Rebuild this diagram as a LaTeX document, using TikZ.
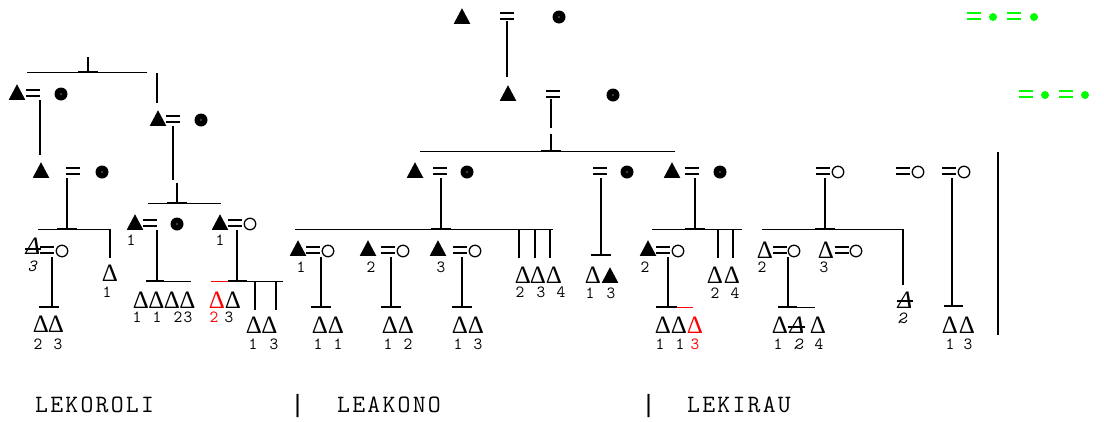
\documentclass[tikz,border=0pt]{standalone}
\usepackage{fontspec}
\newfontfamily\serf{Liberation Serif}
\newfontfamily\capf{Latin Modern Mono}[LetterSpace=9]
\newfontfamily\labf{Latin Modern Mono}
\newfontfamily\barf{Liberation Mono}
\definecolor{lime}{RGB}{0,255,0}
\definecolor{rd}{RGB}{255,0,0}
\tikzset{
 mt/.style={minimum width=16.5pt, minimum height=15.5pt, inner sep=0pt, path picture={\fill (path picture bounding box.south west) -- (path picture bounding box.south east) -- (path picture bounding box.north) -- cycle;}},
 fd/.style={circle, fill=black, minimum size=13pt, inner sep=0pt, path picture={\fill[white] (path picture bounding box.center) circle (0.7pt);}},
 gd/.style={circle, fill=lime, minimum size=8pt, inner sep=0pt},
 oc/.style={circle, draw, line width=1.3pt, minimum size=11.5pt, inner sep=0pt},
 eq/.style={minimum width=14pt, minimum height=9pt, inner sep=0pt, path picture={\draw[line width=1.5pt,#1] ([xshift=-7pt,yshift=3pt]path picture bounding box.center) -- ++(14pt,0pt) ([xshift=-7pt,yshift=-3pt]path picture bounding box.center) -- ++(14pt,0pt);}},
 eq/.default=black,
 dt/.style={inner sep=0pt, font=\serf\fontsize{25}{25}\selectfont},
 sdt/.style={inner sep=0pt, font=\serf\itshape\fontsize{25}{25}\selectfont},
 lb/.style={inner sep=0pt, font=\labf\fontsize{17}{17}\selectfont},
 slb/.style={inner sep=0pt, font=\labf\itshape\fontsize{17}{17}\selectfont},
 bt/.style={inner sep=0pt, anchor=base west, font=\capf\fontsize{25}{25}\selectfont},
 bb/.style={inner sep=0pt, anchor=base west, font=\barf\fontsize{25}{25}\selectfont},
 vl/.style={line width=1.1pt},
 hl/.style={line width=0.7pt},
 jb/.style={line width=1.4pt},
 sk/.style={line width=1.3pt},
}
\begin{document}
\begin{tikzpicture}[x=1pt,y=-1pt]
\useasboundingbox (0,0) rectangle (1104,421);
% ---------- LEAKONO top generations
\node[mt] (a0) at (462,16) {};
\node[eq] (e0) at (507,16) {};
\node[fd] (b0) at (559,17) {};
\node[mt] (a1) at (508,93) {};
\node[eq] (e1) at (553,94) {};
\node[fd] (b1) at (613,95) {};
\coordinate (k0) at (507,77);
\draw[vl] (e0.south -| k0) -- (k0);
\coordinate (k1) at (551,151);
\draw[vl] (e1.south -| k1) -- (551,128) (551,134) -- (k1);
\draw[jb] ([xshift=-10pt]k1) -- ([xshift=10pt]k1);
\draw[hl] (420,151) -- (675,151);
% green
\node[eq=lime] (g1) at (974,16) {};
\node[gd] (g2) at (993,17) {};
\node[eq=lime] (g3) at (1014,16) {};
\node[gd] (g4) at (1034,17) {};
\node[eq=lime] (g5) at (1026,94) {};
\node[gd] (g6) at (1045,95) {};
\node[eq=lime] (g7) at (1066,94) {};
\node[gd] (g8) at (1085,95) {};
% ---------- LEKOROLI
\coordinate (p0) at (88,57);
\coordinate (p1) at (88,72);
\draw[vl] (p0) -- (p1);
\draw[jb] ([xshift=-10pt]p1) -- ([xshift=10pt]p1);
\draw[hl] (27,72) -- (147,72);
\draw[vl] (157,73) -- (157,103);
\node[mt] (l1t) at (17,92) {};
\node[eq] (l1e) at (33,93) {};
\node[fd] (l1c) at (61,94) {};
\draw[vl] (40,100) -- (40,155);
\node[mt] (l2t) at (41,170) {};
\node[eq] (l2e) at (73,171) {};
\node[fd] (l2c) at (102,172) {};
\coordinate (j2) at (67,229);
\draw[vl] (67,178) -- (j2);
\draw[jb] ([xshift=-10pt]j2) -- ([xshift=10pt]j2);
\draw[hl] (38,229) -- (110,229);
\draw[vl] (110,229) -- (110,258);
\node[sdt] (l3t) at (33,246) {Δ};
\draw[sk] (25,249) -- (41,249);
\node[eq] (l3e) at (47,250) {};
\node[oc] (l3c) at (62,251) {};
\node[slb] (l3n) at (32,266) {3};
\coordinate (j3) at (52,307);
\draw[vl] (52,257) -- (j3);
\draw[jb] (39,307) -- (59,307);
\node[dt] (l4a) at (41,324) {Δ};
\node[dt] (l4b) at (56,324) {Δ};
\node[lb] (l4an) at (38,344) {2};
\node[lb] (l4bn) at (58,344) {3};
\node[dt] (l5) at (110,273) {Δ};
\node[lb] (l5n) at (107,292) {1};
% second couple
\node[mt] (m1t) at (158,118) {};
\node[eq] (m1e) at (173,119) {};
\node[fd] (m1c) at (201,120) {};
\draw[vl] (173,126) -- (173,180);
\coordinate (j4) at (177,203);
\draw[vl] (177,183) -- (j4);
\draw[jb] ([xshift=-10pt]j4) -- ([xshift=10pt]j4);
\draw[hl] (148,203) -- (221,203);
\node[mt] (m2t) at (135,222) {};
\node[eq] (m2e) at (150,223) {};
\node[fd] (m2c) at (177,224) {};
\node[lb] (m2n) at (131,240) {1};
\node[mt] (m3t) at (220,222) {};
\node[eq] (m3e) at (235,223) {};
\node[oc] (m3c) at (250,224) {};
\node[lb] (m3n) at (220,240) {1};
\draw[vl] (157,230) -- (157,281);
\draw[jb] (146,281) -- (164,281);
\draw[hl] (146,281) -- (191,281);
\node[dt] (m4a) at (141,300) {Δ};
\node[dt] (m4b) at (156.5,300) {Δ};
\node[dt] (m4c) at (172,300) {Δ};
\node[dt] (m4d) at (187.5,300) {Δ};
\node[lb] (m4an) at (137,317) {1};
\node[lb] (m4bn) at (157,317) {1};
\node[lb] (m4cn) at (178,317) {2};
\node[lb] (m4dn) at (188,317) {3};
\draw[vl] (237,230) -- (237,281);
\draw[jb] (228,281) -- (247,281);
\draw[hl] (228,281) -- (283,281);
\draw[hl,rd] (211,281) -- (228,281);
\node[dt,rd] (m5a) at (217,300) {Δ};
\node[dt] (m5b) at (233,300) {Δ};
\node[lb,rd] (m5an) at (214,317) {2};
\node[lb] (m5bn) at (229,317) {3};
\draw[vl] (255,281) -- (255,310);
\draw[vl] (276,281) -- (276,310);
\node[dt] (m6a) at (254,325) {Δ};
\node[dt] (m6b) at (269.5,325) {Δ};
\node[lb] (m6an) at (253,344) {1};
\node[lb] (m6bn) at (274,344) {3};
% ---------- LEAKONO
\node[mt] (c1t) at (415,170) {};
\node[eq] (c1e) at (440,171) {};
\node[fd] (c1c) at (467,172) {};
\coordinate (j5) at (441,229);
\draw[vl] (441,178) -- (j5);
\draw[jb] ([xshift=-10pt]j5) -- ([xshift=10pt]j5);
\draw[hl] (295,229) -- (553,229);
\node[mt] (c2t) at (298,248) {};
\node[eq] (c2e) at (313,250) {};
\node[oc] (c2c) at (328,251) {};
\node[lb] (c2n) at (301,267) {1};
\node[mt] (c3t) at (368,248) {};
\node[eq] (c3e) at (388,250) {};
\node[oc] (c3c) at (403,251) {};
\node[lb] (c3n) at (371,267) {2};
\node[mt] (c4t) at (438,248) {};
\node[eq] (c4e) at (460,250) {};
\node[oc] (c4c) at (475,251) {};
\node[lb] (c4n) at (441,267) {3};
\draw[vl] (321,257) -- (321,307);
\draw[jb] (311,307) -- (331,307);
\draw[vl] (391,257) -- (391,307);
\draw[jb] (381,307) -- (401,307);
\draw[vl] (462,257) -- (462,307);
\draw[jb] (452,307) -- (472,307);
\node[dt] (c5a) at (320,325) {Δ};
\node[dt] (c5b) at (336,325) {Δ};
\node[lb] (c5an) at (318,344) {1};
\node[lb] (c5bn) at (338,344) {1};
\node[dt] (c6a) at (390,325) {Δ};
\node[dt] (c6b) at (406,325) {Δ};
\node[lb] (c6an) at (388,344) {1};
\node[lb] (c6bn) at (408,344) {2};
\node[dt] (c7a) at (460,325) {Δ};
\node[dt] (c7b) at (476,325) {Δ};
\node[lb] (c7an) at (458,344) {1};
\node[lb] (c7bn) at (478,344) {3};
\draw[vl] (519,229) -- (519,258);
\draw[vl] (535,229) -- (535,258);
\draw[vl] (550,229) -- (550,258);
\node[dt] (c8a) at (523,275) {Δ};
\node[dt] (c8b) at (538,275) {Δ};
\node[dt] (c8c) at (554,275) {Δ};
\node[lb] (c8an) at (520,292) {2};
\node[lb] (c8bn) at (541,292) {3};
\node[lb] (c8cn) at (561,292) {4};
% middle right
\node[eq] (d1e) at (600,171) {};
\node[fd] (d1c) at (627,172) {};
\draw[vl] (601,178) -- (601,255);
\draw[jb] (591,255) -- (611,255);
\node[dt] (d2a) at (593,275) {Δ};
\node[mt] (d2b) at (610,275) {};
\node[lb] (d2an) at (590,293) {1};
\node[lb] (d2bn) at (611,293) {3};
\node[mt] (d3t) at (672,170) {};
\node[eq] (d3e) at (692,171) {};
\node[fd] (d3c) at (720,172) {};
\coordinate (j6) at (695,229);
\draw[vl] (695,178) -- (j6);
\draw[jb] ([xshift=-10pt]j6) -- ([xshift=10pt]j6);
\draw[hl] (652,229) -- (742,229);
\draw[vl] (718,229) -- (718,258);
\draw[vl] (733,229) -- (733,258);
\node[dt] (d4a) at (715,275) {Δ};
\node[dt] (d4b) at (732,275) {Δ};
\node[lb] (d4an) at (715,293) {2};
\node[lb] (d4bn) at (735,293) {4};
\node[mt] (d5t) at (648,248) {};
\node[eq] (d5e) at (663,250) {};
\node[oc] (d5c) at (678,251) {};
\node[lb] (d5n) at (645,267) {2};
\draw[vl] (668,257) -- (668,307);
\draw[jb] (656,307) -- (677,307);
\draw[hl,rd] (677,307) -- (693,307);
\node[dt] (d6a) at (663,325) {Δ};
\node[dt] (d6b) at (679,325) {Δ};
\node[dt,rd] (d6c) at (695,325) {Δ};
\node[lb] (d6an) at (660,344) {1};
\node[lb] (d6bn) at (680,344) {1};
\node[lb,rd] (d6cn) at (695,344) {3};
% ---------- LEKIRAU
\node[eq] (r1e) at (823,171) {};
\node[oc] (r1c) at (838,172) {};
\coordinate (j7) at (825,229);
\draw[vl] (825,178) -- (j7);
\draw[jb] ([xshift=-10pt]j7) -- ([xshift=10pt]j7);
\draw[hl] (762,229) -- (903,229);
\draw[vl] (903,229) -- (903,285);
\node[dt] (r2t) at (765,250) {Δ};
\node[eq] (r2e) at (780,250) {};
\node[oc] (r2c) at (794,251) {};
\node[lb] (r2n) at (762,267) {2};
\node[dt] (r3t) at (826,250) {Δ};
\node[eq] (r3e) at (842,250) {};
\node[oc] (r3c) at (856,251) {};
\node[lb] (r3n) at (824,267) {3};
\draw[vl] (788,257) -- (788,307);
\draw[jb] (778,307) -- (797,307);
\draw[hl] (797,307) -- (815,307);
\node[dt] (r4a) at (780,325) {Δ};
\node[sdt] (r4b) at (797,325) {Δ};
\draw[sk] (788,327) -- (805,327);
\node[dt] (r4c) at (818,325) {Δ};
\node[lb] (r4an) at (778,344) {1};
\node[slb] (r4bn) at (798,344) {2};
\node[lb] (r4cn) at (819,344) {4};
\node[sdt] (r5) at (905,300) {Δ};
\draw[sk] (897,301) -- (913,301);
\node[slb] (r5n) at (902,318) {2};
\node[eq] (r6e) at (903,171) {};
\node[oc] (r6c) at (918,172) {};
\node[eq] (r7e) at (949,171) {};
\node[oc] (r7c) at (964,172) {};
\coordinate (j8) at (952,306);
\draw[vl] (952,178) -- (j8);
\draw[jb] (944,306) -- (963,306);
\node[dt] (r8a) at (950,325) {Δ};
\node[dt] (r8b) at (967,325) {Δ};
\node[lb] (r8an) at (950,344) {1};
\node[lb] (r8bn) at (968,344) {3};
\draw[vl] (998,152) -- (998,335);
% ---------- captions
\node[bt] (t1) at (35,412) {LEKOROLI};
\node[bb] (t2) at (290,412) {|};
\node[bt] (t3) at (337,412) {LEAKONO};
\node[bb] (t4) at (641,412) {|};
\node[bt] (t5) at (687,412) {LEKIRAU};
\end{tikzpicture}
\end{document}
